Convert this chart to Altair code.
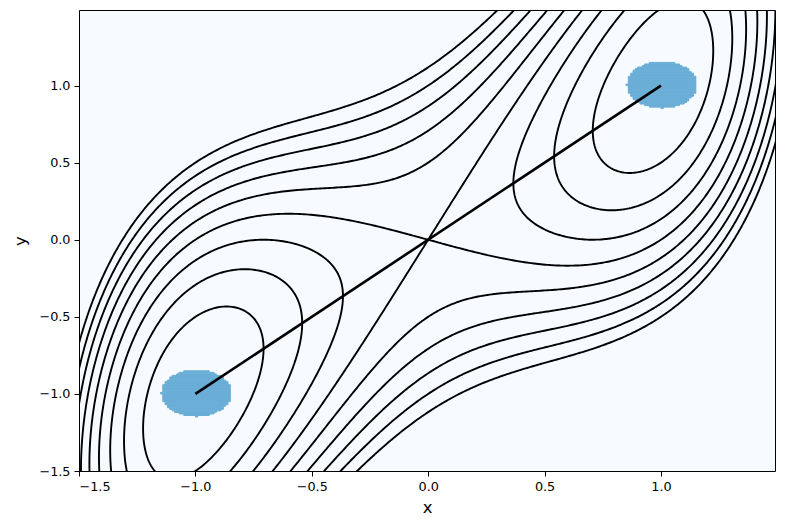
import numpy as np
import pandas as pd
import altair as alt

# ---------------- data ----------------
# potential V(x, y) = (x^2 - WELL^2)^2 + COUPLING * (y - x)^2
WELL = 1.0
COUPLING = 1.0
LEVELS = [0.25, 0.5, 0.75, 1.0, 1.25, 1.5, 1.75, 2.0, 2.25]

# basins (filled discs) around the two minima
BASIN_CX = [-1.0, 1.0]
BASIN_CY = [-1.0, 1.0]
BASIN_R = 0.15
CELL = 0.01

# straight path joining the minima
PATH_X = [-1.0, 1.0]
PATH_Y = [-1.0, 1.0]

X_TICKS = [-1.5, -1.0, -0.5, 0.0, 0.5, 1.0]
Y_TICKS = [-1.5, -1.0, -0.5, 0.0, 0.5, 1.0]
DOMAIN = [-1.5, 1.49]


def potential(x, y):
    return (x ** 2 - WELL ** 2) ** 2 + COUPLING * (y - x) ** 2


# ---------------- contour lines (marching squares) ----------------
gx = np.linspace(-1.6, 1.6, 322)
gy = np.linspace(-1.6, 1.6, 322)
GXX, GYY = np.meshgrid(gx, gy)
Z = potential(GXX, GYY)


def contour_paths(xs, ys, Z, level):
    above = Z >= level
    a0 = above[:-1, :-1]
    a1 = above[:-1, 1:]
    a2 = above[1:, 1:]
    a3 = above[1:, :-1]
    s = a0.astype(int) + a1 + a2 + a3
    cells = np.argwhere((s > 0) & (s < 4))
    pts = {}

    def edge_pt(key):
        if key in pts:
            return pts[key]
        kind, i, j = key
        if kind == "h":
            z0, z1 = Z[j, i], Z[j, i + 1]
            t = (level - z0) / (z1 - z0)
            p = (xs[i] + t * (xs[i + 1] - xs[i]), ys[j])
        else:
            z0, z1 = Z[j, i], Z[j + 1, i]
            t = (level - z0) / (z1 - z0)
            p = (xs[i], ys[j] + t * (ys[j + 1] - ys[j]))
        pts[key] = p
        return p

    adj = {}

    def add(a, b):
        adj.setdefault(a, []).append(b)
        adj.setdefault(b, []).append(a)

    for j, i in cells:
        c = [above[j, i], above[j, i + 1], above[j + 1, i + 1], above[j + 1, i]]
        e = [("h", i, j), ("v", i + 1, j), ("h", i, j + 1), ("v", i, j)]
        cross = [k for k in range(4) if c[k] != c[(k + 1) % 4]]
        if len(cross) == 2:
            add(e[cross[0]], e[cross[1]])
        else:
            center = (Z[j, i] + Z[j, i + 1] + Z[j + 1, i + 1] + Z[j + 1, i]) / 4 >= level
            if center == c[0]:
                add(e[0], e[1])
                add(e[2], e[3])
            else:
                add(e[3], e[0])
                add(e[1], e[2])

    visited = set()

    def walk(start):
        path = [start]
        visited.add(start)
        cur = start
        while True:
            nxt = [n for n in adj[cur] if n not in visited]
            if not nxt:
                if start in adj[cur] and len(path) > 2:
                    path.append(start)
                break
            cur = nxt[0]
            visited.add(cur)
            path.append(cur)
        return [edge_pt(k) for k in path]

    out = []
    for k, v in adj.items():
        if len(v) == 1 and k not in visited:
            out.append(walk(k))
    for k in list(adj.keys()):
        if k not in visited:
            out.append(walk(k))
    return out


rows = []
for lev in LEVELS:
    for n, path in enumerate(contour_paths(gx, gy, Z, lev)):
        for o, (px, py) in enumerate(path):
            rows.append({"x": px, "y": py, "path": f"{lev}_{n}", "ord": o})
contour_df = pd.DataFrame(rows)

# ---------------- basin cells (row runs of the 0.01 grid) ----------------
bx = np.arange(-1.5, 1.5, CELL)
by = np.arange(-1.5, 1.5, CELL)
BX, BY = np.meshgrid(bx, by)
rect_rows = []
for cx, cy in zip(BASIN_CX, BASIN_CY):
    mask = (BX - cx) ** 2 + (BY - cy) ** 2 <= BASIN_R ** 2
    for j in range(len(by)):
        idx = np.where(mask[j])[0]
        if len(idx) == 0:
            continue
        rect_rows.append({"x": bx[idx[0]], "x2": bx[idx[-1]] + CELL,
                          "y": by[j], "y2": by[j] + CELL})
rect_df = pd.DataFrame(rect_rows)

path_df = pd.DataFrame({"x": PATH_X, "y": PATH_Y, "ord": [0, 1]})

# ---------------- chart ----------------
xs = alt.Scale(domain=DOMAIN, nice=False, zero=False)
ys = alt.Scale(domain=DOMAIN, nice=False, zero=False)
x_axis = alt.Axis(values=X_TICKS, format=".1f", title="x")
y_axis = alt.Axis(values=Y_TICKS, format=".1f", title="y")

blobs = alt.Chart(rect_df).mark_rect(color="#6baed6", stroke="#6baed6",
                                     strokeWidth=1.0, clip=True).encode(
    x=alt.X("x:Q", scale=xs, axis=x_axis),
    x2="x2:Q",
    y=alt.Y("y:Q", scale=ys, axis=y_axis),
    y2="y2:Q",
)

contours = alt.Chart(contour_df).mark_line(color="black", strokeWidth=1.9,
                                           clip=True, strokeJoin="round").encode(
    x=alt.X("x:Q", scale=xs, axis=x_axis),
    y=alt.Y("y:Q", scale=ys, axis=y_axis),
    detail="path:N",
    order="ord:Q",
)

path_line = alt.Chart(path_df).mark_line(color="black", strokeWidth=2.6,
                                         clip=True).encode(
    x=alt.X("x:Q", scale=xs, axis=x_axis),
    y=alt.Y("y:Q", scale=ys, axis=y_axis),
    order="ord:Q",
)

chart = alt.layer(blobs, contours, path_line).properties(
    width=696,
    height=461,
    padding={"left": 79, "top": 10, "right": 10, "bottom": 59},
    autosize=alt.AutoSizeParams(type="none"),
    background="white",
).configure_view(
    stroke="black", strokeWidth=1, fill="#f7fbff"
).configure_axis(
    domain=False,
    grid=False,
    ticks=True,
    tickColor="black",
    tickSize=5,
    tickWidth=1,
    labelColor="black",
    labelFont="DejaVu Sans",
    labelFontSize=12.8,
    labelPadding=4,
    titleFont="DejaVu Sans",
    titleFontSize=16.5,
    titleFontWeight="normal",
    titleColor="black",
).configure_axisX(titlePadding=7).configure_axisY(titlePadding=10)

chart.save("out.html", embed_options={"renderer": "svg", "actions": False})
